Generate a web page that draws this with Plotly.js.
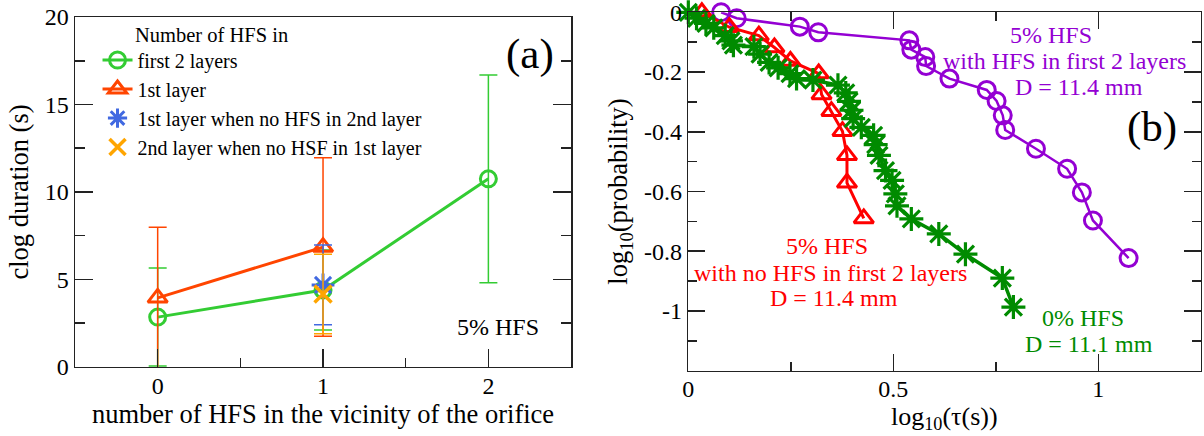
<!DOCTYPE html>
<html>
<head>
<meta charset="utf-8">
<script src="https://cdn.plot.ly/plotly-3.0.1.min.js"></script>
<style>
  html, body { margin: 0; padding: 0; background: #fff; }
  #chart { width: 1204px; height: 436px; }
</style>
</head>
<body>
<div id="chart"></div>
<script>
// ---- Panel (a): clog duration vs number of HFS near the orifice ----
const nHFS = [0, 1, 2];
const firstTwoMean = [2.85, 4.4, 10.75];
const firstTwoErr = [2.8, 2.29, 5.93];

const firstLayerX = [0, 1];
const firstLayerMean = [3.95, 6.85];
const firstLayerErr = [4.03, 5.1];

const onlyFirstX = [1];
const onlyFirstMean = [4.69];
const onlyFirstErr = [2.28];

const onlySecondX = [1];
const onlySecondMean = [4.17];
const onlySecondErr = [2.27];

const legendNames = [
  'first 2 layers',
  '1st layer',
  '1st layer when no HFS in 2nd layer',
  '2nd layer when no HSF in 1st layer'
];

// ---- Panel (b): survival curves, log10(probability) vs log10(tau) ----
const withHfsX = [0.08, 0.118, 0.272, 0.317, 0.539, 0.544, 0.578, 0.58, 0.637, 0.728,
                  0.752, 0.767, 0.773, 0.848, 0.924, 0.96, 0.987, 1.074];
const withHfsY = [0, -0.02, -0.048, -0.067, -0.094, -0.125, -0.15, -0.18, -0.222, -0.26,
                  -0.297, -0.345, -0.394, -0.457, -0.524, -0.603, -0.697, -0.823];

const withoutHfsX = [0.033, 0.1, 0.172, 0.21, 0.249, 0.318, 0.325, 0.349, 0.376, 0.387, 0.387, 0.428];
const withoutHfsY = [0, -0.05, -0.078, -0.118, -0.163, -0.205, -0.275, -0.331, -0.398, -0.479, -0.571, -0.69];

const zeroHfsX = [0.0, 0.02, 0.043, 0.062, 0.09, 0.104, 0.11, 0.16, 0.175, 0.197, 0.219,
                  0.248, 0.264, 0.304, 0.365, 0.384, 0.392, 0.398, 0.402, 0.422, 0.452,
                  0.457, 0.465, 0.481, 0.497, 0.505, 0.509, 0.544, 0.611, 0.676, 0.766, 0.793];
const zeroHfsY = [0.0, -0.02, -0.037, -0.052, -0.078, -0.096, -0.11, -0.115, -0.14, -0.168, -0.186,
                  -0.205, -0.222, -0.227, -0.244, -0.27, -0.298, -0.328, -0.356, -0.385, -0.412,
                  -0.443, -0.479, -0.53, -0.563, -0.608, -0.648, -0.692, -0.742, -0.81, -0.89, -0.987];

const aTickVals = [0, 1, 2];
const aYTickVals = [0, 5, 10, 15, 20];
const bXTickVals = [0, 0.5, 1];
const bXTickText = ['0', '0.5', '1'];
const bYTickVals = [0, -0.2, -0.4, -0.6, -0.8, -1];
const bYTickText = ['0', '-0.2', '-0.4', '-0.6', '-0.8', '-1'];

// Curve labels in panel (b), one line per entry
const purpleLines = ['5% HFS', 'with HFS in first 2 layers', 'D = 11.4 mm'];
const redLines = ['5% HFS', 'with no HFS in first 2 layers', 'D = 11.4 mm'];
const greenLines = ['0% HFS', 'D = 11.1 mm'];

const SERIF = 'Liberation Serif, Times New Roman, serif';
const GREEN_A = '#33cc33', RED_A = '#ff4500', BLUE_A = '#4169e1', ORANGE_A = '#ffa500';
const PURPLE = '#9400d3', RED_B = '#ff0000', GREEN_B = '#008b00';
const TICK_SIZE = 24, TITLE_SIZE = 26.5, NOTE_SIZE = 24;

function errBar(vals, color) {
  return { type: 'data', array: vals, visible: true, color: color, thickness: 1.5, width: 9 };
}

const traces = [
  {
    x: nHFS, y: firstTwoMean, name: legendNames[0], legendgroup: 'g1',
    mode: 'lines+markers', xaxis: 'x', yaxis: 'y',
    line: { color: GREEN_A, width: 3 },
    marker: { symbol: 'circle-open', size: 16, color: GREEN_A, line: { width: 3, color: GREEN_A } },
    error_y: errBar(firstTwoErr, GREEN_A)
  },
  {
    x: firstLayerX, y: firstLayerMean, name: legendNames[1], legendgroup: 'g2',
    mode: 'lines+markers', xaxis: 'x', yaxis: 'y',
    line: { color: RED_A, width: 3 },
    marker: { symbol: 'triangle-up-open', size: 17, color: RED_A, line: { width: 3, color: RED_A } },
    error_y: errBar(firstLayerErr, RED_A)
  },
  {
    x: onlyFirstX, y: onlyFirstMean, name: legendNames[2], legendgroup: 'g3',
    mode: 'markers', xaxis: 'x', yaxis: 'y',
    marker: { symbol: 'asterisk-open', size: 19, color: BLUE_A, line: { width: 3, color: BLUE_A } },
    error_y: errBar(onlyFirstErr, BLUE_A)
  },
  {
    x: onlySecondX, y: onlySecondMean, name: legendNames[3], legendgroup: 'g4',
    mode: 'markers', xaxis: 'x', yaxis: 'y',
    marker: { symbol: 'x-thin-open', size: 17, color: ORANGE_A, line: { width: 3.5, color: ORANGE_A } },
    error_y: errBar(onlySecondErr, ORANGE_A)
  },
  {
    x: withHfsX, y: withHfsY, showlegend: false, cliponaxis: false,
    mode: 'lines+markers', xaxis: 'x2', yaxis: 'y2',
    line: { color: PURPLE, width: 2.5 },
    marker: { symbol: 'circle-open', size: 17, color: PURPLE, line: { width: 3, color: PURPLE } }
  },
  {
    x: withoutHfsX, y: withoutHfsY, showlegend: false, cliponaxis: false,
    mode: 'lines+markers', xaxis: 'x2', yaxis: 'y2',
    line: { color: RED_B, width: 3 },
    marker: { symbol: 'triangle-up-open', size: 17, color: RED_B, line: { width: 3, color: RED_B } }
  },
  {
    x: zeroHfsX, y: zeroHfsY, showlegend: false, cliponaxis: false,
    mode: 'lines+markers', xaxis: 'x2', yaxis: 'y2',
    line: { color: GREEN_B, width: 3.5 },
    marker: { symbol: 'asterisk-open', size: 20, color: GREEN_B, line: { width: 3.2, color: GREEN_B } }
  }
];

const axisBase = {
  showgrid: false, zeroline: false, showline: true, layer: 'above traces',
  linecolor: '#222', linewidth: 1.5,
  ticks: 'inside', ticklen: 18, tickwidth: 1.5, tickcolor: '#222',
  tickfont: { family: SERIF, size: TICK_SIZE, color: '#000' },
  ticklabeloverflow: 'allow',
  fixedrange: true
};

function minorTicks(vals, len) {
  return { ticks: 'inside', ticklen: len, tickwidth: 1.5, tickcolor: '#222', tickmode: 'array', tickvals: vals };
}

function note(text, x, y, color, size) {
  return { xref: 'x2', yref: 'y2', x: x, y: y, showarrow: false, text: text,
           font: { family: SERIF, size: size || NOTE_SIZE, color: color } };
}

const layout = {
  width: 1204, height: 436,
  margin: { l: 0, r: 0, t: 0, b: 0 },
  paper_bgcolor: '#fff', plot_bgcolor: '#fff',
  font: { family: SERIF, color: '#000' },
  showlegend: true,
  legend: {
    x: 0.081, y: 0.907, xanchor: 'left', yanchor: 'top',
    bgcolor: 'rgba(0,0,0,0)', borderwidth: 0,
    font: { family: SERIF, size: 20, color: '#000' },
    tracegroupgap: 0, itemclick: false, itemdoubleclick: false
  },
  xaxis: Object.assign({}, axisBase, {
    domain: [0.0623, 0.4743], range: [-0.5, 2.5], anchor: 'y',
    mirror: true, tickmode: 'array', tickvals: aTickVals,
    ticklabelstandoff: -3,
    minor: minorTicks([0.5, 1.5], 9),
    title: { text: 'number of HFS in the vicinity of the orifice', font: { family: SERIF, size: TITLE_SIZE }, standoff: 4 }
  }),
  yaxis: Object.assign({}, axisBase, {
    domain: [0.1583, 0.961], range: [0, 20], anchor: 'x',
    mirror: 'ticks', tickmode: 'array', tickvals: aYTickVals,
    minor: minorTicks([2.5, 7.5, 12.5, 17.5], 10),
    title: { text: 'clog duration (s)', font: { family: SERIF, size: TITLE_SIZE }, standoff: 8 }
  }),
  xaxis2: Object.assign({}, axisBase, {
    domain: [0.5717, 0.9973], range: [0, 1.25], anchor: 'y2',
    mirror: 'ticks', tickmode: 'array', tickvals: bXTickVals, ticktext: bXTickText,
    ticklen: 17, ticklabelstandoff: -4,
    minor: minorTicks([0.25, 0.75], 9)
  }),
  yaxis2: Object.assign({}, axisBase, {
    domain: [0.1498, 0.9718], range: [-1.2, 0], anchor: 'x2',
    mirror: 'ticks', tickmode: 'array', tickvals: bYTickVals, ticktext: bYTickText,
    ticklen: 17,
    minor: minorTicks([-0.1, -0.3, -0.5, -0.7, -0.9, -1.1], 9),
    title: { text: 'log<sub>10</sub>(probability)', font: { family: SERIF, size: TITLE_SIZE }, standoff: 8 }
  }),
  annotations: [
    // x title of panel (b), sitting on the bottom edge below its tick labels
    { xref: 'x2 domain', yref: 'paper', x: 0.5, y: 0.002, xanchor: 'center', yanchor: 'bottom', showarrow: false,
      borderpad: 0, text: 'log<sub>10</sub>(τ(s))', font: { family: SERIF, size: 26, color: '#000' } },
    { xref: 'x', yref: 'y', x: -0.147, y: 18.97, xanchor: 'left', yanchor: 'middle', showarrow: false,
      text: 'Number of HFS in', font: { family: SERIF, size: 20.5, color: '#000' } },
    { xref: 'x', yref: 'y', x: 2.25, y: 17.9, showarrow: false,
      text: '(a)', font: { family: SERIF, size: 43, color: '#000' } },
    { xref: 'x', yref: 'y', x: 2.06, y: 2.29, showarrow: false,
      text: '5% HFS', font: { family: SERIF, size: NOTE_SIZE, color: '#000' } },
    note('(b)', 1.131, -0.385, '#000', 43),
    note(purpleLines[0], 0.885, -0.076, PURPLE),
    note(purpleLines[1], 0.917, -0.164, PURPLE),
    note(purpleLines[2], 0.952, -0.251, PURPLE),
    note(redLines[0], 0.338, -0.782, RED_B),
    note(redLines[1], 0.348, -0.872, RED_B),
    note(redLines[2], 0.355, -0.956, RED_B),
    note(greenLines[0], 0.963, -1.024, GREEN_B),
    note(greenLines[1], 0.978, -1.111, GREEN_B)
  ]
};

Plotly.newPlot('chart', traces, layout, { staticPlot: true, displayModeBar: false });
</script>
</body>
</html>
